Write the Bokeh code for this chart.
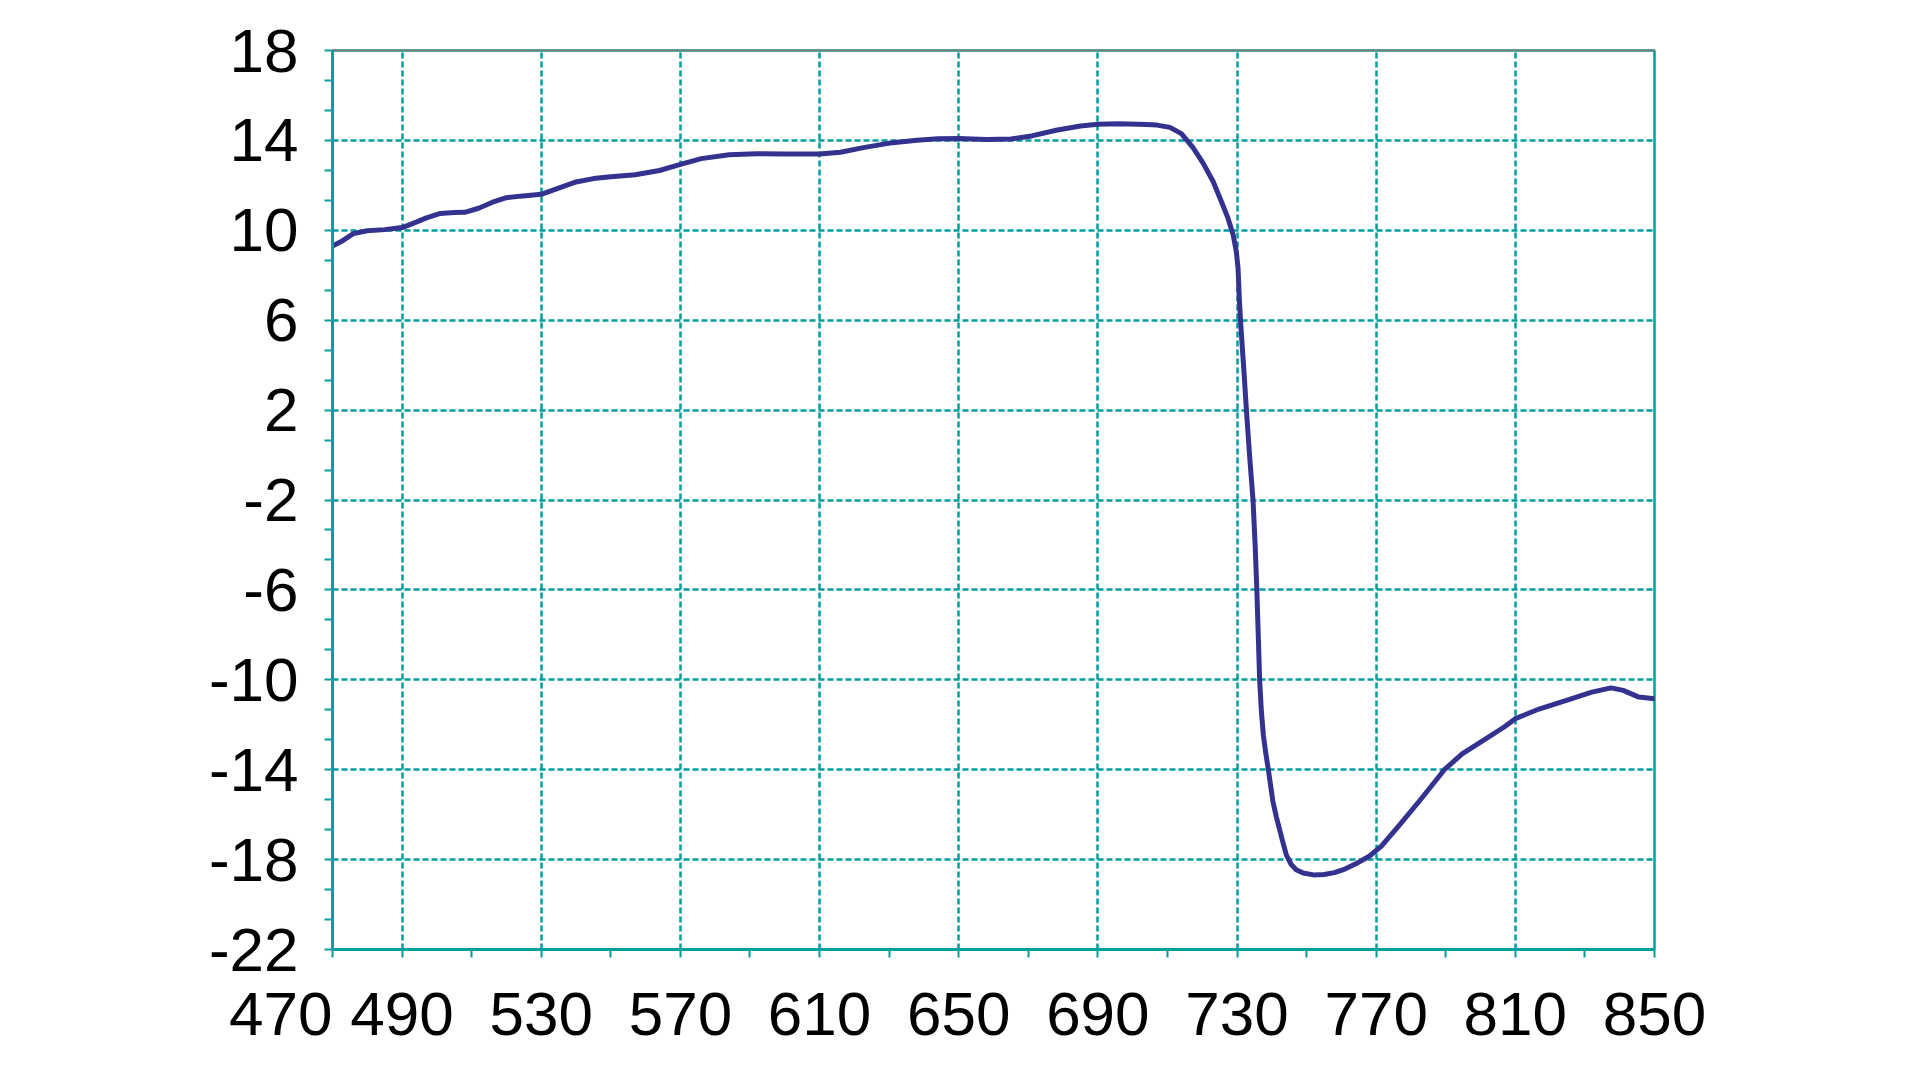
from bokeh.plotting import figure
from bokeh.models import FixedTicker, LinearAxis, Range1d
from bokeh.embed import file_html
from bokeh.resources import INLINE

# ---- data ----
wavelength = [470, 472.5, 476, 480, 485, 490, 493, 497, 501, 505, 508, 512, 516, 520, 524,
              530, 535, 540, 545, 550, 557, 564, 570, 576, 584, 592, 600, 610, 616, 623,
              631, 638, 644, 650, 658, 665, 671, 678, 685, 690, 696, 704, 707, 710.7, 714,
              717.4, 720.2, 723.1, 725.5, 727.4, 728.9, 729.8, 730.3, 730.7, 731.2, 732,
              732.7, 733.6, 734.6, 735.2, 735.7, 736.1, 736.5, 737, 737.6, 738.3, 739, 740.3,
              741.3, 742.3, 743.3, 744.2, 745.5, 747, 749, 752, 755, 758, 761, 764, 768,
              771.5, 776.5, 782.6, 789.6, 794.7, 800.8, 806.8, 810, 816.8, 824.9, 832, 837.5,
              841, 845.5, 850]
signal = [9.3, 9.5, 9.85, 9.98, 10.03, 10.12, 10.3, 10.55, 10.75, 10.79, 10.8, 10.98, 11.25,
          11.45, 11.52, 11.6, 11.88, 12.15, 12.3, 12.38, 12.47, 12.66, 12.93, 13.19, 13.36,
          13.41, 13.4, 13.39, 13.47, 13.69, 13.9, 14.01, 14.07, 14.08, 14.04, 14.06, 14.2,
          14.45, 14.64, 14.72, 14.74, 14.71, 14.68, 14.58, 14.3, 13.67, 13.0, 12.18, 11.28,
          10.54, 9.79, 9.04, 8.3, 6.8, 5.5, 3.7, 2.0, 0.0, -2.0, -4.0, -6.0, -8.0, -10.0,
          -11.4, -12.5, -13.3, -14.0, -15.4, -16.1, -16.7, -17.3, -17.8, -18.2, -18.45,
          -18.6, -18.68, -18.66, -18.58, -18.42, -18.2, -17.85, -17.4, -16.5, -15.36, -14.0,
          -13.3, -12.7, -12.1, -11.73, -11.3, -10.9, -10.55, -10.36, -10.47, -10.77, -10.84]

x_ticks = [470, 490, 530, 570, 610, 650, 690, 730, 770, 810, 850]
x_minor = [510, 550, 590, 630, 670, 710, 750, 790, 830]
x_grid = [490, 530, 570, 610, 650, 690, 730, 770, 810]
y_ticks = [-22, -18, -14, -10, -6, -2, 2, 6, 10, 14, 18]
y_grid = [-18, -14, -10, -6, -2, 2, 6, 10, 14]

TEAL = "#00a0a0"
GRID = "#009e9c"
LINE = "#33338f"
FONT = "Liberation Sans"
NBSP = "\u00a0"

y_minor = []
for a, b in zip(y_ticks[:-1], y_ticks[1:]):
    step = (b - a) / 3
    y_minor += [a + step, a + 2 * step]

p = figure(frame_width=1322, frame_height=899, output_backend="svg", toolbar_location=None,
           x_range=Range1d(470, 850), y_range=Range1d(-22, 18),
           min_border_left=332, min_border_top=50, min_border_right=70, min_border_bottom=100,
           background_fill_color="white", border_fill_color="white")

p.outline_line_color = TEAL
p.outline_line_width = 2.5

# grid
p.xgrid.ticker = FixedTicker(ticks=x_grid)
p.ygrid.ticker = FixedTicker(ticks=y_grid)
for g in (p.xgrid, p.ygrid):
    g.grid_line_color = GRID
    g.grid_line_dash = "6 3"
    g.grid_line_width = 2.5

# axes
for ax in (p.xaxis, p.yaxis):
    ax.axis_line_color = TEAL
    ax.axis_line_width = 3
    ax.major_tick_line_color = TEAL
    ax.major_tick_line_width = 2
    ax.minor_tick_line_color = TEAL
    ax.minor_tick_line_width = 2
    ax.major_tick_in = 0
    ax.major_tick_out = 8
    ax.minor_tick_in = 0
    ax.minor_tick_out = 8
    ax.major_label_text_font = FONT
    ax.major_label_text_color = "black"

p.xaxis.ticker = FixedTicker(ticks=x_ticks, minor_ticks=x_minor)
p.yaxis.ticker = FixedTicker(ticks=y_ticks, minor_ticks=y_minor)
p.xaxis.major_label_text_font_size = "62px"
p.yaxis.major_label_text_font_size = "62px"
p.xaxis.major_label_standoff = 21
p.yaxis.major_label_standoff = 26
# the "470" label sits left of its tick in the reference (padding shifts its centre)
p.xaxis.major_label_overrides = {470: "470" + NBSP * 6}
p.yaxis.major_label_overrides = {v: str(v) for v in y_ticks}

# gray top border
top = LinearAxis(axis_line_color="#728282", axis_line_width=2,
                 major_tick_line_color=None, minor_tick_line_color=None,
                 major_label_text_font_size="0px", major_label_standoff=0)
top.ticker = FixedTicker(ticks=[])
p.add_layout(top, "above")

p.line(wavelength, signal, line_color=LINE, line_width=5, line_join="round", line_cap="round")

open("out.html", "w").write(file_html(p, INLINE))
